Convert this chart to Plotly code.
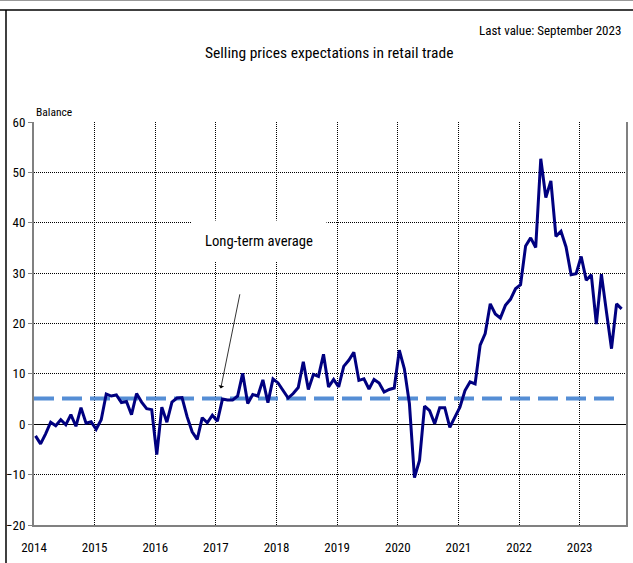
import plotly.graph_objects as go

years = list(range(2014, 2024))
y2014 = [-2.3, -3.9, -1.9, 0.4, -0.3, 0.9, -0.1, 1.9, -0.4, 3.3, 0.2, 0.5]
y2015 = [-1.0, 0.9, 6.0, 5.6, 5.8, 4.3, 4.5, 1.9, 6.1, 4.4, 3.1, 2.9]
y2016 = [-6.0, 3.4, 0.4, 4.4, 5.2, 5.3, 1.5, -1.5, -3.0, 1.3, 0.3, 1.8]
y2017 = [0.6, 5.0, 4.8, 4.8, 5.6, 10.1, 4.1, 5.9, 5.6, 8.8, 4.3, 9.0]
y2018 = [8.2, 6.7, 5.2, 6.1, 7.3, 12.4, 6.9, 9.9, 9.5, 13.9, 7.4, 8.9]
y2019 = [7.4, 11.5, 12.7, 14.3, 8.7, 9.0, 7.0, 8.9, 8.2, 6.4, 6.9, 7.2]
y2020 = [14.7, 11.0, 4.1, -10.6, -7.2, 3.6, 2.7, 0.1, 3.3, 3.3, -0.6, 1.4]
y2021 = [3.4, 6.7, 8.4, 8.0, 15.7, 18.0, 23.9, 21.9, 21.1, 23.6, 24.8, 26.9]
y2022 = [27.7, 35.4, 37.0, 35.1, 52.7, 45.0, 48.3, 37.3, 38.3, 35.2, 29.7, 29.9]
y2023 = [33.3, 28.6, 29.7, 19.9, 29.8, 22.3, 15.0, 23.9, 22.9]
long_term_average = 5.1

series = [y2014, y2015, y2016, y2017, y2018, y2019, y2020, y2021, y2022, y2023]
xs, ys = [], []
for yr, vals in zip(years, series):
    for m, v in enumerate(vals):
        xs.append(yr + (m + 0.3) / 12)
        ys.append(v)

FONT = "Roboto Condensed, Roboto, sans-serif"

fig = go.Figure()
fig.add_trace(go.Scatter(
    x=[2014, xs[-1]], y=[long_term_average, long_term_average], mode="lines",
    line=dict(color="#558ED5", width=4, dash="20px,8px"), hoverinfo="skip"))
fig.add_trace(go.Scatter(
    x=xs, y=ys, mode="lines", line=dict(color="#000080", width=3)))

fig.update_layout(
    width=633, height=563,
    margin=dict(l=34, r=7, t=122, b=38, autoexpand=False),
    paper_bgcolor="white", plot_bgcolor="white",
    showlegend=False,
    font=dict(family=FONT, size=12, color="black"),
    xaxis=dict(range=[2014, 2023.764], tickmode="array", tickvals=years,
               ticktext=[str(y) for y in years], automargin=False,
               showgrid=True, gridcolor="black", griddash="1px,1px", gridwidth=1,
               showline=True, linecolor="#808080", linewidth=2,
               ticks="", ticklabelstandoff=9, zeroline=False,
               tickfont=dict(size=13)),
    yaxis=dict(range=[-20, 60], dtick=10, automargin=False,
               showgrid=True, gridcolor="black", griddash="1px,1px", gridwidth=1,
               showline=True, linecolor="#808080", linewidth=2, mirror=True,
               ticks="outside", ticklen=4, tickcolor="#808080",
               zeroline=True, zerolinecolor="black", zerolinewidth=1,
               tickfont=dict(size=13)),
    annotations=[
        dict(text="Selling prices expectations in retail trade", xref="paper", yref="paper",
             x=0.498, y=1.172, xanchor="center", yanchor="middle", showarrow=False,
             font=dict(size=15.5)),
        dict(text="Last value: September 2023", xref="paper", yref="paper",
             x=0.995, y=1.228, xanchor="right", yanchor="middle", showarrow=False,
             font=dict(size=13)),
        dict(text="Balance", xref="paper", yref="paper", x=0.0, y=1.0,
             xanchor="left", yanchor="bottom", yshift=1, showarrow=False,
             font=dict(size=11.5)),
        dict(text="Long-term average", x=2017.713, y=36.3, xref="x", yref="y",
             showarrow=False, bgcolor="white", width=132, height=38,
             font=dict(size=14.7)),
        dict(text="", x=2017.08, y=7.1, xref="x", yref="y",
             ax=2017.40, ay=26.1, axref="x", ayref="y",
             showarrow=True, arrowhead=1, arrowsize=1.2, arrowwidth=0.8,
             arrowcolor="black"),
    ],
    shapes=[
        dict(type="line", xref="paper", yref="paper", x0=-0.06, x1=1.02, y0=1.278, y1=1.278,
             line=dict(color="black", width=1.5)),
        dict(type="line", xref="paper", yref="paper", x0=-0.0473, x1=-0.0473, y0=1.278, y1=-0.1,
             line=dict(color="black", width=1.5)),
        dict(type="line", xref="paper", yref="paper", x0=-0.06, x1=1.02, y0=1.302, y1=1.302,
             line=dict(color="#999999", width=1.5)),
    ],
)

fig.write_html("out.html", config={"displayModeBar": False},
               post_script="document.body.style.margin='0px';")
